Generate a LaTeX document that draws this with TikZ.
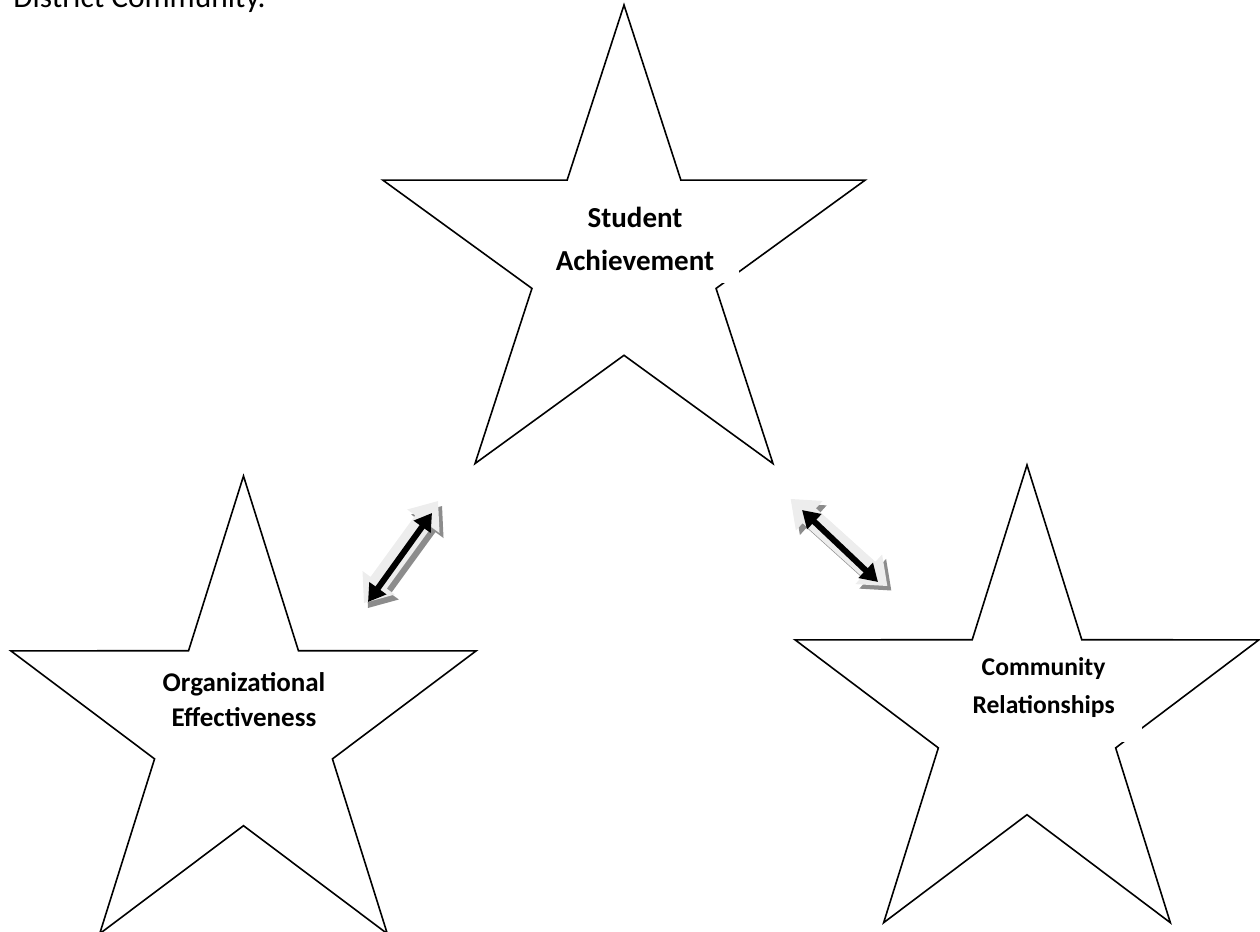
\documentclass[tikz,border=0pt]{standalone}
\usepackage{fontspec}
\setmainfont{Carlito}
\usetikzlibrary{arrows.meta}

\tikzset{
  starline/.style={draw=black, line width=0.8pt, line join=miter},
  starlabel/.style={fill=white, align=center, inner sep=0pt,
    font=\bfseries\fontsize{14.5}{18.5}\selectfont},
  arrowface/.style={fill=black!7},
  arrowshade/.style={fill=black!45},
  linkarrow/.style={line width=3pt,
    {Triangle[length=8.5pt,width=10pt]}-{Triangle[length=8.5pt,width=10pt]}},
}

\begin{document}
\begin{tikzpicture}[x=0.5pt,y=-0.5pt]
        \useasboundingbox (0,0) rectangle (1260,932);
        % heading cut off at the top
        \node[anchor=base west, inner sep=0pt, font=\fontsize{15.7}{19}\selectfont] (intro) at (13,7) {District Community.};
        % the three stars
        \begin{scope}[shift={(624,258.5)}]
            \draw[starline] (-90:253.5) \foreach \a in {-54,18,90,162,234} {-- (\a:96.8) -- (\a+36:253.5)} -- cycle;
        \end{scope}
        \begin{scope}[shift={(243.5,729)}, xscale=0.967]
            \draw[starline] (-90:253) \foreach \a in {-54,18,90,162,234} {-- (\a:96.7) -- (\a+36:253)} -- cycle;
        \end{scope}
        \begin{scope}[shift={(1027,718)}, xscale=0.964]
            \draw[starline] (-90:253) \foreach \a in {-54,18,90,162,234} {-- (\a:96.7) -- (\a+36:253)} -- cycle;
        \end{scope}
        % labels
        \node[starlabel, minimum width=104pt, minimum height=44pt] (sa) at (635,239) {Student\\[3pt]Achievement};
        \node[starlabel, font=\bfseries\fontsize{13.5}{17.5}\selectfont] (oe) at (244,700) {Organizational\\Effectiveness};
        \node[starlabel, font=\bfseries\fontsize{12.8}{19}\selectfont, minimum width=98pt, text depth=14pt, anchor=south east] (cr) at (1142,742) {Community\\Relationships};
        % left double arrow
        \begin{scope}[shift={(405,557)}, rotate=54]
            \fill[arrowshade] (-63,0) -- (-38,20) -- (-38,10) -- (38,10) -- (38,20) -- (63,0) -- (38,-20) -- (38,-10) -- (-38,-10) -- (-38,-20) -- cycle;
        \end{scope}
        \begin{scope}[shift={(401,552)}, rotate=54]
            \fill[arrowface] (-63,0) -- (-38,20) -- (-38,10) -- (38,10) -- (38,20) -- (63,0) -- (38,-20) -- (38,-10) -- (-38,-10) -- (-38,-20) -- cycle;
        \end{scope}
        \coordinate (oeEnd) at (368,602);
        \coordinate (saEndL) at (432,513);
        \draw[linkarrow] (oeEnd) -- (saEndL);
        % right double arrow
        \begin{scope}[shift={(843,547)}, rotate=-42]
            \fill[arrowshade] (-65,0) -- (-40,20) -- (-40,10) -- (40,10) -- (40,20) -- (65,0) -- (40,-20) -- (40,-10) -- (-40,-10) -- (-40,-20) -- cycle;
        \end{scope}
        \begin{scope}[shift={(839,542.5)}, rotate=-42]
            \fill[arrowface] (-65,0) -- (-40,20) -- (-40,10) -- (40,10) -- (40,20) -- (65,0) -- (40,-20) -- (40,-10) -- (-40,-10) -- (-40,-20) -- cycle;
        \end{scope}
        \coordinate (saEndR) at (802,510);
        \coordinate (crEnd) at (878,582);
        \draw[linkarrow] (saEndR) -- (crEnd);
    \end{tikzpicture}
\end{document}
